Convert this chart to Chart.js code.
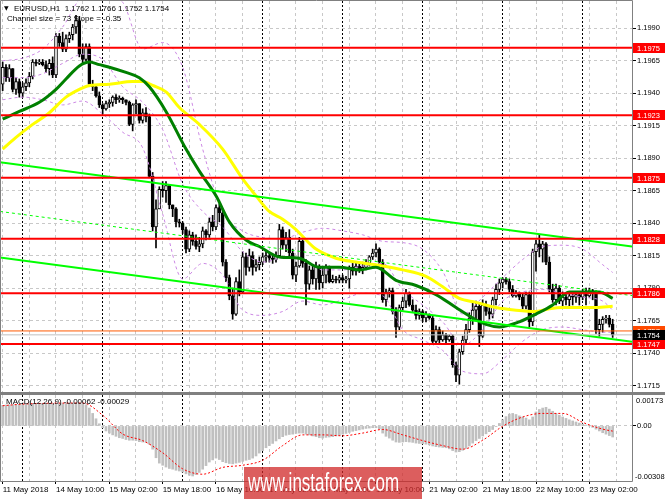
<!DOCTYPE html>
<html>
<head>
<meta charset="utf-8">
<script src="https://cdn.jsdelivr.net/npm/chart.js@4.4.0/dist/chart.umd.min.js"></script>
<style>
  html, body { margin: 0; padding: 0; background: #fff; }
  #wrap { position: relative; width: 665px; height: 499px; overflow: hidden; background: #fff; }
  #main { position: absolute; left: 0; top: 0; }
  #macd { position: absolute; left: 0; top: 394px; }
  #mark { position: absolute; left: 244px; top: 467px; width: 178px; height: 32px; background: rgba(208, 40, 40, 0.75); }
  #mark span { position: absolute; left: 4px; top: 3px; font: 25px "Liberation Sans", Arial, sans-serif; line-height: 25px; color: #fff; transform: scaleX(0.68); transform-origin: 0 0; white-space: nowrap; }
</style>
</head>
<body>
<div id="wrap">
  <canvas id="main" width="665" height="394"></canvas>
  <canvas id="macd" width="665" height="105"></canvas>
  <div id="mark"><span>www.instaforex.com</span></div>
</div>
<script>
// EURUSD H1, 11 May 2018 18:00 .. 23 May 2018 09:00, bar index = position on the time axis
const opens = [
  1.1947,1.1960,1.1952,1.1959,1.1943,1.1949,1.1940,1.1945,1.1948,1.1953,
  1.1964,1.1963,1.1964,1.1962,1.1959,1.1963,1.1954,1.1984,1.1979,1.1974,
  1.1982,1.1985,1.1991,1.1996,1.1970,1.1966,1.1976,1.1947,1.1945,1.1938,
  1.1931,1.1928,1.1932,1.1933,1.1937,1.1935,1.1936,1.1935,1.1933,1.1916,
  1.1931,1.1932,1.1919,1.1925,1.1922,1.1876,1.1837,1.1851,1.1866,1.1865,
  1.1869,1.1854,1.1851,1.1841,1.1840,1.1835,1.1820,1.1831,1.1826,1.1822,
  1.1824,1.1834,1.1831,1.1841,1.1837,1.1852,1.1848,1.1810,1.1798,1.1784,
  1.1770,1.1795,1.1787,1.1814,1.1806,1.1815,1.1806,1.1808,1.1810,1.1814,
  1.1815,1.1813,1.1812,1.1815,1.1835,1.1823,1.1829,1.1817,1.1800,1.1807,
  1.1826,1.1809,1.1793,1.1804,1.1797,1.1806,1.1794,1.1800,1.1806,1.1795,
  1.1797,1.1796,1.1798,1.1796,1.1797,1.1806,1.1803,1.1807,1.1804,1.1806,
  1.1809,1.1814,1.1817,1.1820,1.1810,1.1781,1.1787,1.1788,1.1772,1.1760,
  1.1775,1.1780,1.1786,1.1777,1.1773,1.1769,1.1772,1.1767,1.1770,1.1767,
  1.1749,1.1758,1.1750,1.1754,1.1750,1.1753,1.1731,1.1723,1.1741,1.1750,
  1.1758,1.1767,1.1773,1.1776,1.1753,1.1777,1.1772,1.1770,1.1781,1.1789,
  1.1794,1.1797,1.1795,1.1789,1.1784,1.1786,1.1783,1.1776,1.1785,1.1764,
  1.1818,1.1824,1.1820,1.1824,1.1810,1.1789,1.1781,1.1790,1.1780,1.1783,
  1.1781,1.1784,1.1783,1.1785,1.1783,1.1787,1.1784,1.1788,1.1786,1.1758,
  1.1762,1.1766,1.1767,1.1762
];
const highs = [
  1.1964,1.1962,1.1962,1.1959,1.1952,1.1951,1.1948,1.1951,1.1956,1.1966,
  1.1966,1.1966,1.1966,1.1965,1.1966,1.1968,1.1986,1.1986,1.1987,1.1985,
  1.1987,1.1993,1.2000,1.1999,1.1978,1.1978,1.1978,1.1950,1.1946,1.1941,
  1.1932,1.1934,1.1935,1.1938,1.1939,1.1938,1.1937,1.1935,1.1934,1.1932,
  1.1935,1.1932,1.1928,1.1929,1.1924,1.1879,1.1858,1.1868,1.1872,1.1872,
  1.1869,1.1854,1.1852,1.1843,1.1841,1.1837,1.1834,1.1833,1.1831,1.1829,
  1.1837,1.1835,1.1844,1.1846,1.1854,1.1855,1.1851,1.1812,1.1800,1.1790,
  1.1798,1.1804,1.1818,1.1817,1.1820,1.1818,1.1812,1.1814,1.1817,1.1818,
  1.1817,1.1816,1.1818,1.1839,1.1837,1.1833,1.1835,1.1820,1.1810,1.1829,
  1.1827,1.1812,1.1807,1.1808,1.1810,1.1808,1.1806,1.1808,1.1807,1.1800,
  1.1799,1.1800,1.1800,1.1799,1.1807,1.1809,1.1810,1.1810,1.1810,1.1812,
  1.1815,1.1820,1.1824,1.1821,1.1812,1.1789,1.1790,1.1790,1.1775,1.1777,
  1.1783,1.1789,1.1787,1.1781,1.1777,1.1774,1.1773,1.1772,1.1770,1.1769,
  1.1761,1.1760,1.1757,1.1755,1.1754,1.1754,1.1733,1.1743,1.1753,1.1762,
  1.1771,1.1779,1.1780,1.1779,1.1781,1.1780,1.1775,1.1783,1.1793,1.1797,
  1.1798,1.1798,1.1797,1.1792,1.1788,1.1787,1.1786,1.1787,1.1787,1.1820,
  1.1827,1.1831,1.1826,1.1825,1.1814,1.1793,1.1793,1.1792,1.1787,1.1785,
  1.1787,1.1786,1.1787,1.1787,1.1789,1.1790,1.1790,1.1789,1.1788,1.1766,
  1.1768,1.1769,1.1769,1.1766
];
const lows = [
  1.1942,1.1949,1.1949,1.1941,1.1939,1.1937,1.1937,1.1942,1.1945,1.1951,
  1.1961,1.1962,1.1961,1.1956,1.1954,1.1952,1.1952,1.1976,1.1972,1.1972,
  1.1979,1.1981,1.1986,1.1968,1.1962,1.1965,1.1945,1.1942,1.1937,1.1929,
  1.1924,1.1927,1.1929,1.1930,1.1932,1.1933,1.1932,1.1931,1.1915,1.1911,
  1.1924,1.1917,1.1917,1.1918,1.1875,1.1834,1.1821,1.1851,1.1860,1.1856,
  1.1851,1.1845,1.1837,1.1837,1.1832,1.1817,1.1818,1.1823,1.1820,1.1818,
  1.1821,1.1827,1.1829,1.1834,1.1835,1.1841,1.1807,1.1795,1.1781,1.1766,
  1.1769,1.1784,1.1786,1.1800,1.1803,1.1800,1.1803,1.1804,1.1808,1.1810,
  1.1810,1.1809,1.1810,1.1814,1.1820,1.1818,1.1814,1.1797,1.1795,1.1806,
  1.1806,1.1777,1.1789,1.1793,1.1789,1.1789,1.1790,1.1794,1.1794,1.1794,
  1.1794,1.1794,1.1794,1.1794,1.1790,1.1800,1.1800,1.1802,1.1801,1.1804,
  1.1807,1.1812,1.1814,1.1807,1.1779,1.1776,1.1783,1.1770,1.1752,1.1758,
  1.1773,1.1775,1.1776,1.1772,1.1766,1.1766,1.1764,1.1764,1.1766,1.1747,
  1.1747,1.1748,1.1749,1.1748,1.1749,1.1729,1.1718,1.1716,1.1739,1.1748,
  1.1756,1.1762,1.1766,1.1745,1.1752,1.1769,1.1766,1.1767,1.1777,1.1785,
  1.1790,1.1793,1.1787,1.1783,1.1783,1.1781,1.1774,1.1774,1.1760,1.1761,
  1.1803,1.1814,1.1810,1.1808,1.1787,1.1779,1.1777,1.1778,1.1775,1.1777,
  1.1776,1.1777,1.1779,1.1777,1.1781,1.1777,1.1783,1.1781,1.1755,1.1753,
  1.1756,1.1763,1.1760,1.1752
];
const closes = [
  1.1960,1.1952,1.1959,1.1943,1.1949,1.1940,1.1945,1.1948,1.1953,1.1964,
  1.1963,1.1964,1.1962,1.1959,1.1963,1.1954,1.1984,1.1979,1.1974,1.1982,
  1.1985,1.1991,1.1996,1.1970,1.1966,1.1976,1.1947,1.1945,1.1938,1.1931,
  1.1928,1.1932,1.1933,1.1937,1.1935,1.1936,1.1935,1.1933,1.1916,1.1931,
  1.1932,1.1919,1.1925,1.1922,1.1876,1.1837,1.1851,1.1866,1.1865,1.1869,
  1.1854,1.1851,1.1841,1.1840,1.1835,1.1820,1.1831,1.1826,1.1822,1.1824,
  1.1834,1.1831,1.1841,1.1837,1.1852,1.1848,1.1810,1.1798,1.1784,1.1770,
  1.1795,1.1787,1.1814,1.1806,1.1815,1.1806,1.1808,1.1810,1.1814,1.1815,
  1.1813,1.1812,1.1815,1.1835,1.1823,1.1829,1.1817,1.1800,1.1807,1.1826,
  1.1809,1.1793,1.1804,1.1797,1.1806,1.1794,1.1800,1.1806,1.1795,1.1797,
  1.1796,1.1798,1.1796,1.1797,1.1806,1.1803,1.1807,1.1804,1.1806,1.1809,
  1.1814,1.1817,1.1820,1.1810,1.1781,1.1787,1.1788,1.1772,1.1760,1.1775,
  1.1780,1.1786,1.1777,1.1773,1.1769,1.1772,1.1767,1.1770,1.1767,1.1749,
  1.1758,1.1750,1.1754,1.1750,1.1753,1.1731,1.1723,1.1741,1.1750,1.1758,
  1.1767,1.1773,1.1776,1.1753,1.1777,1.1772,1.1770,1.1781,1.1789,1.1794,
  1.1797,1.1795,1.1789,1.1784,1.1786,1.1783,1.1776,1.1785,1.1764,1.1818,
  1.1824,1.1820,1.1824,1.1810,1.1789,1.1781,1.1790,1.1780,1.1783,1.1781,
  1.1784,1.1783,1.1785,1.1783,1.1787,1.1784,1.1788,1.1786,1.1758,1.1762,
  1.1766,1.1767,1.1762,1.1754
];

// moving averages (bar index, price)
const maFastBars = [0,5,11,16,19,23,26,29,32,37,41,44,49,55,59,64,68,73,77,83,89,95,101,107,112,118,124,130,136,141,145,149,155,160,165,170,175,179,183];
const maFast = [1.1920,1.1926,1.1933,1.1943,1.1951,1.1961,1.1964,1.1962,1.1960,1.1956,1.1952,1.1945,1.1926,1.1897,1.1880,1.1861,1.1841,1.1827,1.1822,1.1814,1.1813,1.1806,1.1806,1.1804,1.1806,1.1796,1.1792,1.1785,1.1775,1.1767,1.1762,1.1760,1.1764,1.1770,1.1777,1.1787,1.1787,1.1787,1.1782];
const maSlowBars = [0,4,9,14,19,23,26,32,39,42,45,49,53,59,66,72,76,80,84,88,91,94,100,106,114,120,127,132,137,142,148,154,160,164,168,173,178,183];
const maSlow = [1.1897,1.1906,1.1916,1.1925,1.1937,1.1943,1.1946,1.1947,1.1949,1.1949,1.1946,1.1941,1.1929,1.1916,1.1897,1.1874,1.1861,1.1849,1.1843,1.1835,1.1827,1.1820,1.1813,1.1810,1.1807,1.1804,1.1799,1.1791,1.1782,1.1779,1.1775,1.1773,1.1772,1.1774,1.1775,1.1775,1.1775,1.1776];

// bands (every 6 bars)
const bandBars = [0,6,12,18,24,30,36,42,48,54,60,66,72,78,84,90,96,102,108,114,120,126,132,138,144,150,156,162,168,174,180,183];
const bandUpper = [1.1965,1.1967,1.1974,1.1991,1.2014,1.2016,1.2010,1.1974,1.1979,1.1960,1.1897,1.1849,1.1834,1.1829,1.1828,1.1833,1.1836,1.1834,1.1831,1.1826,1.1825,1.1820,1.1803,1.1770,1.1783,1.1798,1.1812,1.1822,1.1823,1.1820,1.1808,1.1802];
const bandMiddle = [1.1952,1.1952,1.1955,1.1963,1.1970,1.1966,1.1945,1.1933,1.1912,1.1870,1.1849,1.1837,1.1818,1.1810,1.1813,1.1812,1.1804,1.1804,1.1807,1.1809,1.1789,1.1777,1.1764,1.1746,1.1758,1.1780,1.1787,1.1789,1.1786,1.1783,1.1780,1.1773];
const bandLower = [1.1935,1.1937,1.1935,1.1931,1.1934,1.1924,1.1910,1.1898,1.1847,1.1797,1.1809,1.1800,1.1773,1.1769,1.1772,1.1780,1.1777,1.1781,1.1786,1.1784,1.1758,1.1750,1.1742,1.1726,1.1724,1.1735,1.1749,1.1758,1.1760,1.1758,1.1756,1.1756];

// regression channel (ends at the chart edges)
const channelX = [-0.8, 188.8];
const channelUpper = [1.18868, 1.18220];
const channelMid = [1.18490, 1.17842];
const channelLower = [1.18135, 1.17487];

// horizontal levels
const levels = [1.1975, 1.1923, 1.1875, 1.1828, 1.1786, 1.1747];
const askPrice = 1.1757;

// MACD(12,26,9)
const macdHist = [
  0.00115,0.00117,0.00118,0.00119,0.00119,0.00120,0.00120,0.00121,0.00121,0.00122,
  0.00122,0.00122,0.00123,0.00123,0.00123,0.00122,0.00123,0.00125,0.00126,0.00126,
  0.00127,0.00128,0.00129,0.00128,0.00124,0.00118,0.00100,0.00070,0.00040,0.00012,
  -0.00010,-0.00028,-0.00040,-0.00050,-0.00058,-0.00066,-0.00070,-0.00076,-0.00080,-0.00080,
  -0.00082,-0.00088,-0.00090,-0.00092,-0.00102,-0.00130,-0.00178,-0.00208,-0.00220,-0.00230,
  -0.00238,-0.00242,-0.00248,-0.00252,-0.00258,-0.00268,-0.00276,-0.00280,-0.00272,-0.00260,
  -0.00242,-0.00222,-0.00202,-0.00190,-0.00180,-0.00188,-0.00200,-0.00206,-0.00210,-0.00212,
  -0.00208,-0.00204,-0.00198,-0.00192,-0.00188,-0.00180,-0.00168,-0.00152,-0.00138,-0.00122,
  -0.00110,-0.00098,-0.00084,-0.00072,-0.00060,-0.00052,-0.00048,-0.00046,-0.00042,-0.00040,
  -0.00040,-0.00046,-0.00050,-0.00056,-0.00060,-0.00066,-0.00068,-0.00064,-0.00062,-0.00060,
  -0.00056,-0.00052,-0.00046,-0.00042,-0.00036,-0.00030,-0.00026,-0.00022,-0.00018,-0.00014,
  -0.00012,-0.00010,-0.00010,-0.00016,-0.00040,-0.00058,-0.00068,-0.00080,-0.00090,-0.00092,
  -0.00090,-0.00088,-0.00090,-0.00092,-0.00096,-0.00098,-0.00100,-0.00102,-0.00106,-0.00112,
  -0.00116,-0.00118,-0.00120,-0.00122,-0.00128,-0.00138,-0.00146,-0.00144,-0.00136,-0.00126,
  -0.00112,-0.00096,-0.00082,-0.00070,-0.00056,-0.00044,-0.00032,-0.00020,-0.00004,0.00014,
  0.00034,0.00052,0.00066,0.00070,0.00064,0.00056,0.00050,0.00044,0.00034,0.00050,
  0.00078,0.00092,0.00100,0.00104,0.00094,0.00082,0.00070,0.00060,0.00050,0.00042,
  0.00034,0.00028,0.00022,0.00016,0.00010,0.00005,0.00000,-0.00008,-0.00018,-0.00028,
  -0.00038,-0.00046,-0.00054,-0.00062
];
const macdSignal = [0.00113,0.00122,0.00126,0.00128,0.00128,0.00060,-0.00045,-0.00082,-0.00150,-0.00240,-0.00270,-0.00232,-0.00220,-0.00192,-0.00110,-0.00050,-0.00050,-0.00055,-0.00040,-0.00020,-0.00050,-0.00082,-0.00110,-0.00130,-0.00080,-0.00002,0.00050,0.00070,0.00070,0.00020,-0.00018,-0.00029];
const macdMax = 0.00173, macdMin = -0.00308;

// axes
const priceTicks = [1.1990,1.1965,1.1940,1.1915,1.1890,1.1865,1.1840,1.1815,1.1790,1.1765,1.1740,1.1715];
const gridBars = [0,8,16,24,32,40,48,56,64,72,80,88,96,104,112,120,128,136,144,152,160,168,176,184];
const separatorBars = [6,30,54,78,102,126,150,174];
const labelBars = [0,16,32,48,64,80,96,112,128,144,160,176];
const timeLabels = ['11 May 2018','14 May 10:00','15 May 02:00','15 May 18:00','16 May 10:00','17 May 02:00','17 May 18:00','18 May 10:00','21 May 02:00','21 May 18:00','22 May 10:00','23 May 02:00'];

const xMin = -0.8, xMax = 188.8;
const yMin = 1.1710, yMax = 1.2011;
const last = closes.length - 1;
const FONT = '"Liberation Sans", Arial, sans-serif';
const FSIZE = 7.5;

Chart.defaults.font.family = FONT;
Chart.defaults.font.size = FSIZE;
Chart.defaults.color = '#000';

let pts = (xs, ys) => xs.map((x, k) => ({ x: x, y: ys[k] }));
let lineSet = (data, color, width, dash, order) => ({
    type: 'line', data: data, borderColor: color, borderWidth: width, borderDash: dash,
    pointRadius: 0, fill: false, order: order, cubicInterpolationMode: 'monotone'
});
let flatLine = (v, color, width) => lineSet([{ x: xMin, y: v }, { x: xMax, y: v }], color, width, [], 0);

let noPad = s => { s.paddingTop = 0; s.paddingBottom = 0; s.paddingLeft = 0; s.paddingRight = 0; };

let separatorAxis = () => ({
    type: 'linear', min: xMin, max: xMax, offset: false, position: 'bottom',
    afterBuildTicks: s => { s.ticks = separatorBars.map(v => ({ value: v })) },
    afterFit: s => { s.height = 0; noPad(s) },
    ticks: { display: false },
    grid: { color: '#000000', drawTicks: false, offset: false },
    border: { display: false, dash: [2, 2] }
});

// candles
const bars = closes.map((c, i) => i);
const wickData = bars.map(i => ({ x: i, y: [lows[i], highs[i]] }));
const bodyData = bars.map(i => ({ x: i, y: [opens[i], closes[i]] }));
const bodyFill = bars.map(i => closes[i] >= opens[i] ? '#ffffff' : '#000000');

let mainSets = []
levels.forEach(v => mainSets.push(flatLine(v, '#ff0000', 2)))
mainSets.push(flatLine(askPrice, '#ff5a00', 1))
mainSets.push(flatLine(closes[last], '#c0c0c0', 1))
mainSets.push(lineSet(pts(channelX, channelUpper), '#00ff00', 2, [], 1))
mainSets.push(lineSet(pts(channelX, channelMid), '#00ff00', 1, [3, 3], 1))
mainSets.push(lineSet(pts(channelX, channelLower), '#00ff00', 2, [], 1))
mainSets.push(lineSet(pts(maFastBars, maFast), '#008000', 3, [], 2))
mainSets.push(lineSet(pts(maSlowBars, maSlow), '#ffff00', 3, [], 2))
mainSets.push(lineSet(pts(bandBars, bandUpper), '#cc88e4', 1, [3, 3], 3))
mainSets.push(lineSet(pts(bandBars, bandMiddle), '#cc88e4', 1, [3, 3], 3))
mainSets.push(lineSet(pts(bandBars, bandLower), '#cc88e4', 1, [3, 3], 3))
mainSets.push({
    type: 'bar', data: bodyData, backgroundColor: bodyFill, borderColor: '#000000',
    borderWidth: 1, borderSkipped: false, barThickness: 3, minBarLength: 1, grouped: false, order: 4
})
mainSets.push({
    type: 'bar', data: wickData, backgroundColor: '#000000', borderWidth: 0,
    barThickness: 1, grouped: false, order: 5
})

const mainDecor = {
    id: 'mainDecor',
    afterDraw(chart) {
        const ctx = chart.ctx, ca = chart.chartArea, y = chart.scales.y
        ctx.save()
        ctx.strokeStyle = '#808080'
        ctx.lineWidth = 1
        ctx.beginPath()
        ctx.moveTo(0.5, ca.bottom)
        ctx.lineTo(0.5, 0.5)
        ctx.lineTo(ca.right + 0.5, 0.5)
        ctx.lineTo(ca.right + 0.5, ca.bottom)
        ctx.stroke()
        ctx.fillStyle = '#808080'
        ctx.fillRect(0, ca.bottom, chart.width, chart.height - ca.bottom)

        ctx.font = FSIZE + 'px ' + FONT
        ctx.textBaseline = 'middle'
        let box = (v, bg) => {
            const py = Math.round(y.getPixelForValue(v))
            ctx.fillStyle = bg
            ctx.fillRect(ca.right + 1, py - 5, chart.width - ca.right - 1, 10)
            ctx.fillStyle = '#ffffff'
            ctx.fillText(v.toFixed(4), ca.right + 5, py + 0.5)
        }
        levels.forEach(v => box(v, '#ff0000'))
        box(askPrice, '#ff4a00')
        box(closes[last], '#000000')

        ctx.fillStyle = '#000000'
        ctx.font = '6px "DejaVu Sans", sans-serif'
        ctx.fillText('▼', 4, 8)
        ctx.font = '8px ' + FONT
        ctx.fillText('EURUSD,H1  ' + [opens[last], highs[last], lows[last], closes[last]].map(v => v.toFixed(4)).join(' '), 14, 8.5)
        ctx.fillText('Channel size = 73 Slope = -0.35', 7, 19)
        ctx.restore()
    }
}

new Chart(document.getElementById('main'), {
    type: 'bar',
    data: { datasets: mainSets },
    options: {
        responsive: false, maintainAspectRatio: false, animation: false, events: [],
        layout: { padding: { left: 0, right: 0, top: 1, bottom: 2 } },
        plugins: { legend: { display: false }, tooltip: { enabled: false } },
        scales: {
            x: {
                type: 'linear', min: xMin, max: xMax, offset: false, position: 'bottom',
                afterBuildTicks: s => { s.ticks = gridBars.map(v => ({ value: v })) },
                afterFit: s => { s.height = 0; noPad(s) },
                ticks: { display: false },
                grid: { color: '#c8c8c8', drawTicks: false, offset: false },
                border: { display: false, dash: [3, 3] }
            },
            xs: separatorAxis(),
            y: {
                position: 'right', min: yMin, max: yMax, beginAtZero: false,
                afterBuildTicks: s => { s.ticks = priceTicks.map(v => ({ value: v })) },
                afterFit: s => { s.width = 33; noPad(s) },
                ticks: { autoSkip: false, padding: 1, callback: v => v.toFixed(4) },
                grid: { color: '#c8c8c8', tickColor: '#000000', tickLength: 4, tickBorderDash: [] },
                border: { display: false, dash: [3, 3] }
            }
        }
    },
    plugins: [mainDecor]
})

// MACD window
const macdDecor = {
    id: 'macdDecor',
    afterDraw(chart) {
        const ctx = chart.ctx, ca = chart.chartArea
        ctx.save()
        ctx.fillStyle = '#808080'
        ctx.fillRect(0, 0, chart.width, 1)
        ctx.strokeStyle = '#808080'
        ctx.lineWidth = 1
        ctx.beginPath()
        ctx.moveTo(0.5, 1)
        ctx.lineTo(0.5, ca.bottom + 0.5)
        ctx.lineTo(ca.right + 0.5, ca.bottom + 0.5)
        ctx.lineTo(ca.right + 0.5, 1)
        ctx.stroke()
        ctx.fillStyle = '#000000'
        ctx.font = FSIZE + 'px ' + FONT
        ctx.textBaseline = 'top'
        ctx.fillText(macdMax.toFixed(5), ca.right + 4, ca.top + 2)
        ctx.textBaseline = 'bottom'
        ctx.fillText(macdMin.toFixed(5), ca.right + 3, ca.bottom)
        ctx.textBaseline = 'middle'
        ctx.font = '8px ' + FONT
        ctx.fillText('MACD(12,26,9) ' + macdHist[last].toFixed(5) + ' ' + macdSignal[macdSignal.length - 1].toFixed(5), 6, ca.top + 7)
        ctx.restore()
    }
}

new Chart(document.getElementById('macd'), {
    type: 'bar',
    data: {
        datasets: [
            lineSet(pts(bandBars, macdSignal), '#ff0000', 1, [2, 2], 1),
            {
                type: 'bar', data: bars.map(i => ({ x: i, y: macdHist[i] })),
                backgroundColor: '#c0c0c0', borderWidth: 0, barThickness: 2, grouped: false, order: 2
            }
        ]
    },
    options: {
        responsive: false, maintainAspectRatio: false, animation: false, events: [],
        layout: { padding: { left: 0, right: 0, top: 1, bottom: 0 } },
        plugins: { legend: { display: false }, tooltip: { enabled: false } },
        scales: {
            x: {
                type: 'linear', min: xMin, max: xMax, offset: false, position: 'bottom',
                afterBuildTicks: s => { s.ticks = gridBars.map(v => ({ value: v })) },
                afterFit: s => { s.height = 18; noPad(s) },
                ticks: {
                    autoSkip: false, maxRotation: 0, minRotation: 0, align: 'start', padding: 1,
                    font: { size: 8 },
                    callback: v => { const k = labelBars.indexOf(v); return k >= 0 ? timeLabels[k] : '' }
                },
                grid: {
                    color: '#c8c8c8', offset: false, tickLength: 3, tickBorderDash: [],
                    tickColor: c => labelBars.indexOf(c.tick ? c.tick.value : -1) >= 0 ? '#000000' : 'rgba(0,0,0,0)'
                },
                border: { display: false, dash: [3, 3] }
            },
            xs: separatorAxis(),
            y: {
                position: 'right', min: macdMin, max: macdMax, beginAtZero: false,
                afterBuildTicks: s => { s.ticks = [{ value: 0 }] },
                afterFit: s => { s.width = 33; noPad(s) },
                ticks: { autoSkip: false, padding: 1, callback: v => '0.00' },
                grid: { color: '#c8c8c8', tickColor: '#000000', tickLength: 4, tickBorderDash: [] },
                border: { display: false, dash: [3, 3] }
            }
        }
    },
    plugins: [macdDecor]
})
</script>
</body>
</html>
